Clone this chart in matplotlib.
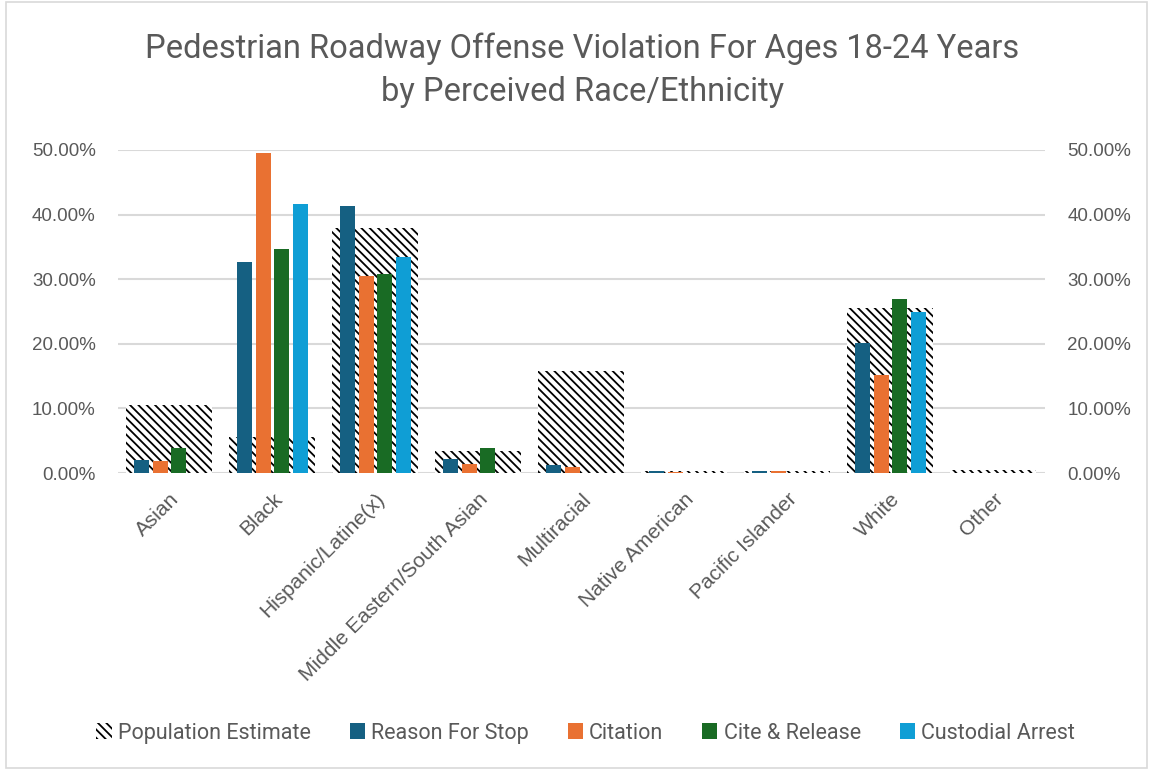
import matplotlib
matplotlib.use("Agg")
import matplotlib.pyplot as plt
import numpy as np
from matplotlib.patches import Patch, Rectangle
from matplotlib.ticker import PercentFormatter

categories = ["Asian", "Black", "Hispanic/Latine(x)", "Middle Eastern/South Asian",
              "Multiracial", "Native American", "Pacific Islander", "White", "Other"]
population = [10.5, 5.6, 38.0, 3.4, 15.8, 0.3, 0.3, 25.5, 0.4]
reason_for_stop = [2.0, 32.7, 41.3, 2.1, 1.2, 0.3, 0.3, 20.1, 0.0]
citation = [1.9, 49.6, 30.5, 1.4, 0.9, 0.1, 0.35, 15.2, 0.0]
cite_release = [3.9, 34.7, 30.8, 3.8, 0.0, 0.0, 0.0, 26.9, 0.0]
custodial = [0.0, 41.7, 33.4, 0.0, 0.0, 0.0, 0.0, 25.0, 0.0]
yticks = [0, 10, 20, 30, 40, 50]

series = [("Reason For Stop", reason_for_stop, "#156082"),
          ("Citation", citation, "#E97132"),
          ("Cite & Release", cite_release, "#196B24"),
          ("Custodial Arrest", custodial, "#0F9ED5")]

narrow = ["Roboto", "DejaVu Sans"]
regular = ["Liberation Sans", "DejaVu Sans"]
gray = "#595959"

plt.rcParams["hatch.linewidth"] = 1.3
plt.rcParams["hatch.color"] = "black"

fig = plt.figure(figsize=(11.53, 7.70), dpi=100)
ax = fig.add_axes([0.1023, 0.3857, 0.804, 0.4195])
ax2 = ax.twinx()

x = np.arange(len(categories))
ax.set_zorder(2)
ax.patch.set_visible(False)
ax2.set_zorder(1)
ax2.bar(x, population, width=0.835, facecolor="white", edgecolor="black",
        hatch="\\\\\\\\", linewidth=0, zorder=2)

step = 0.182
w = 0.146
for i, (name, vals, col) in enumerate(series):
    ax.bar(x + (i - 1.5) * step, vals, width=w, color=col, zorder=3)

for a in (ax, ax2):
    a.set_ylim(0, 50)
    a.set_yticks(yticks)
    a.yaxis.set_major_formatter(PercentFormatter(decimals=2))
    a.tick_params(axis="y", length=0, labelsize=13.5, labelcolor=gray, pad=16)
    for s in a.spines.values():
        s.set_visible(False)
    for lab in a.get_yticklabels():
        lab.set_fontfamily(regular)
ax.set_xlim(-0.5, len(categories) - 0.5)
ax2.grid(axis="y", color="#D9D9D9", linewidth=1.5, zorder=0)
ax2.set_axisbelow(True)
ax.tick_params(axis="x", length=0, pad=12)
ax.set_xticks(x)
ax.set_xticklabels(categories, rotation=45, ha="right", rotation_mode="anchor",
                   fontsize=15, color=gray, family=regular)

fig.suptitle("Pedestrian Roadway Offense Violation For Ages 18-24 Years\nby Perceived Race/Ethnicity",
             x=0.505, y=0.958, fontsize=23.5, color=gray, family=narrow, linespacing=1.45)

handles = [Patch(facecolor="white", edgecolor="black", hatch="\\\\\\\\", linewidth=0, label="Population Estimate")]
handles += [Patch(facecolor=c, label=n) for n, _, c in series]
fig.legend(handles=handles, loc="center", bbox_to_anchor=(0.508, 0.048), ncol=5,
           frameon=False, handlelength=0.7, handleheight=0.7, handletextpad=0.3,
           columnspacing=1.8, prop={"family": narrow, "size": 15.5}, labelcolor=gray)

fig.patches.append(Rectangle((0.005, 0.003), 0.99, 0.994, transform=fig.transFigure,
                             fill=False, edgecolor="#D9D9D9", linewidth=1.2))

fig.savefig("out.png", dpi=100, facecolor="white")
